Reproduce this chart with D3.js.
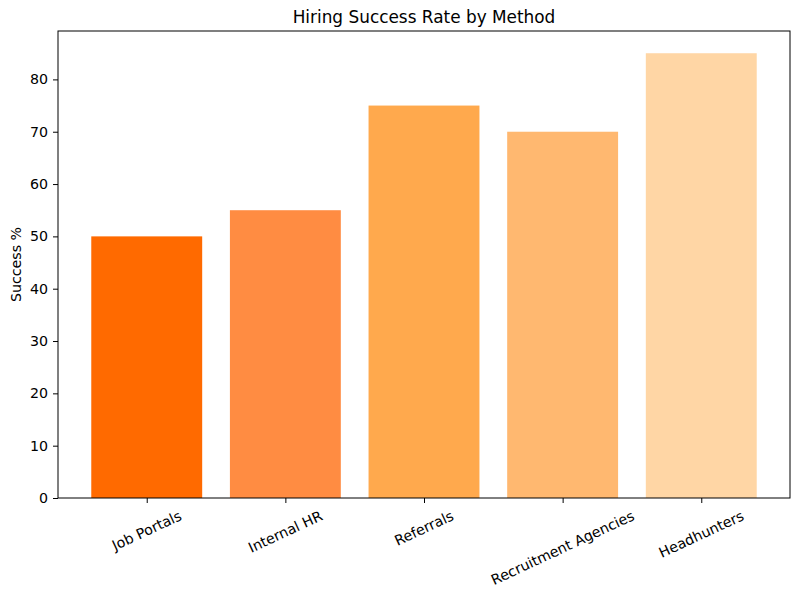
<!DOCTYPE html>
<html>
<head>
<meta charset="utf-8">
<script src="https://cdn.jsdelivr.net/npm/d3@7"></script>
<style>
  body { margin: 0; background: #fff; }
  svg { font-family: "DejaVu Sans", sans-serif; }
</style>
</head>
<body>
<div id="chart_id"></div>
<script>
// --- data ---
const methods = ["Job Portals", "Internal HR", "Referrals", "Recruitment Agencies", "Headhunters"];
const successRates = [50, 55, 75, 70, 85];
const barColors = ["#ff6a00", "#ff8c42", "#ffa94d", "#ffb870", "#ffd6a5"];
const yTicks = [0, 10, 20, 30, 40, 50, 60, 70, 80];

const width = 800, height = 596;
const margin = { top: 31, right: 10, bottom: 98, left: 58 };
const innerW = width - margin.left - margin.right;
const innerH = height - margin.top - margin.bottom;
const fs = 14.2;

const svg = d3.select("#chart_id").append("svg")
  .attr("width", width)
  .attr("height", height);

const g = svg.append("g").attr("transform", `translate(${margin.left},${margin.top})`);

// matplotlib-like x limits: bars width 0.8, 5% margins
const n = methods.length;
const x = d3.scaleLinear()
  .domain([-0.4 - 0.05 * (n - 0.2), n - 1 + 0.4 + 0.05 * (n - 0.2)])
  .range([0, innerW]);
const y = d3.scaleLinear()
  .domain([0, d3.max(successRates) * 1.05])
  .range([innerH, 0]);

// bars
g.selectAll("rect.bar")
  .data(successRates)
  .join("rect")
  .attr("class", "bar")
  .attr("x", (d, i) => x(i - 0.4))
  .attr("width", (d, i) => x(i + 0.4) - x(i - 0.4))
  .attr("y", d => y(d))
  .attr("height", d => y(0) - y(d))
  .attr("fill", (d, i) => barColors[i]);

// y axis
const yAxis = g.append("g")
  .call(d3.axisLeft(y).tickValues(yTicks).tickSize(5).tickPadding(5).tickFormat(d3.format("d")));
yAxis.select(".domain").remove();
yAxis.selectAll("text").attr("font-size", fs).attr("fill", "#000").attr("font-family", "DejaVu Sans");
yAxis.selectAll("line").attr("stroke", "#000");

// x axis ticks
const xAxis = g.append("g").attr("transform", `translate(0,${innerH})`)
  .call(d3.axisBottom(x).tickValues(d3.range(n)).tickSize(5).tickFormat(""));
xAxis.select(".domain").remove();
xAxis.selectAll("line").attr("stroke", "#000");

// rotated x labels, bbox centred under the tick
const angle = 25 * Math.PI / 180;
g.append("g").selectAll("text")
  .data(methods)
  .join("text")
  .attr("font-size", fs)
  .attr("fill", "#000")
  .attr("text-anchor", "middle")
  .attr("dominant-baseline", "central")
  .text(d => d)
  .each(function (d, i) {
    const w = this.getComputedTextLength();
    const h = fs * 1.05;
    const bh = w * Math.sin(angle) + h * Math.cos(angle);
    const cx = x(i);
    const cy = innerH + 5 + 5 + bh / 2;
    d3.select(this)
      .attr("x", cx).attr("y", cy)
      .attr("transform", `rotate(-25,${cx},${cy})`);
  });

// frame
g.append("rect")
  .attr("width", innerW).attr("height", innerH)
  .attr("fill", "none").attr("stroke", "#000").attr("stroke-width", 1);

// title
svg.append("text")
  .attr("x", margin.left + innerW / 2)
  .attr("y", margin.top - 8)
  .attr("text-anchor", "middle")
  .attr("font-size", 16.9)
  .attr("fill", "#000")
  .text("Hiring Success Rate by Method");

// y label
svg.append("text")
  .attr("transform", `translate(21,${margin.top + innerH / 2}) rotate(-90)`)
  .attr("text-anchor", "middle")
  .attr("font-size", fs)
  .attr("fill", "#000")
  .text("Success %");
</script>
</body>
</html>
